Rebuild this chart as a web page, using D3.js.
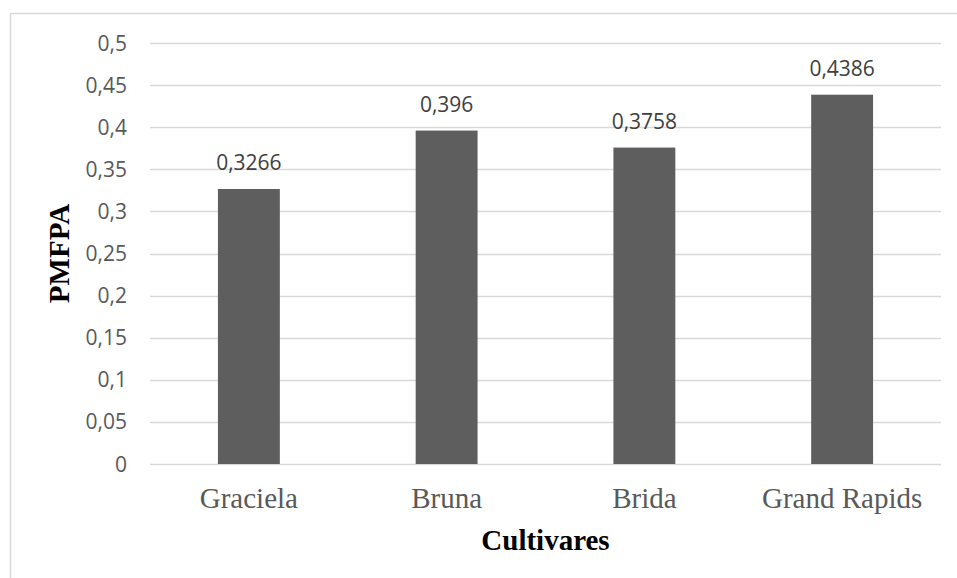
<!DOCTYPE html>
<html>
<head>
<meta charset="utf-8">
<script src="https://cdn.jsdelivr.net/npm/d3@7"></script>
<style>
  html, body { margin: 0; padding: 0; background: #fff; }
  svg { display: block; }
</style>
</head>
<body>
<script>
const categories = ["Graciela", "Bruna", "Brida", "Grand Rapids"];
const values = [0.3266, 0.396, 0.3758, 0.4386];
const valueLabels = ["0,3266", "0,396", "0,3758", "0,4386"];
const yTicks = [0, 0.05, 0.1, 0.15, 0.2, 0.25, 0.3, 0.35, 0.4, 0.45, 0.5];
const yTickLabels = ["0", "0,05", "0,1", "0,15", "0,2", "0,25", "0,3", "0,35", "0,4", "0,45", "0,5"];
const xTitle = "Cultivares";
const yTitle = "PMFPA";

(function () {
const W = 957, H = 578;
const svg = d3.select("body").append("svg").attr("width", W).attr("height", H);

// chart border
svg.append("rect").attr("x", 10.5).attr("y", 13.5).attr("width", 960).attr("height", 600)
  .attr("fill", "#fff").attr("stroke", "#d9d9d9").attr("stroke-width", 1.5);

const pLeft = 150, pRight = 941, pTop = 43, pBottom = 464;
const x = d3.scaleBand().domain(categories).range([pLeft, pRight]).paddingInner(0.687).paddingOuter(0.3435);
const y = d3.scaleLinear().domain([0, 0.5]).range([pBottom, pTop]);

// gridlines
svg.append("g").selectAll("line").data(yTicks).join("line")
  .attr("x1", pLeft).attr("x2", pRight)
  .attr("y1", d => Math.round(y(d)) + 0.5).attr("y2", d => Math.round(y(d)) + 0.5)
  .attr("stroke", "#d9d9d9").attr("stroke-width", 1.3);

// y tick labels
svg.append("g").selectAll("text").data(yTicks).join("text")
  .attr("x", pLeft - 23).attr("y", d => y(d) + 7.5)
  .attr("text-anchor", "end")
  .attr("font-family", "'Open Sans', sans-serif").attr("font-size", 21)
  .attr("fill", "#595959")
  .text((d, i) => yTickLabels[i]);

// bars
svg.append("g").selectAll("rect").data(values).join("rect")
  .attr("x", (d, i) => x(categories[i]))
  .attr("width", x.bandwidth())
  .attr("y", d => y(d))
  .attr("height", d => y(0) - y(d))
  .attr("fill", "#5e5e5e");

// data labels
svg.append("g").selectAll("text").data(values).join("text")
  .attr("x", (d, i) => x(categories[i]) + x.bandwidth() / 2)
  .attr("y", d => y(d) - 19)
  .attr("text-anchor", "middle")
  .attr("font-family", "'Open Sans', sans-serif").attr("font-size", 21)
  .attr("fill", "#404040")
  .text((d, i) => valueLabels[i]);

// category labels
svg.append("g").selectAll("text").data(categories).join("text")
  .attr("x", d => x(d) + x.bandwidth() / 2)
  .attr("y", 508)
  .attr("text-anchor", "middle")
  .attr("font-family", "'Liberation Serif', 'Times New Roman', serif").attr("font-size", 29)
  .attr("fill", "#595959")
  .text(d => d);

// x title
svg.append("text")
  .attr("x", (pLeft + pRight) / 2).attr("y", 550)
  .attr("text-anchor", "middle")
  .attr("font-family", "'Liberation Serif', 'Times New Roman', serif").attr("font-size", 29)
  .attr("font-weight", "bold").attr("fill", "#000")
  .text(xTitle);

// y title
svg.append("text")
  .attr("transform", `translate(69,${(pTop + pBottom) / 2}) rotate(-90)`)
  .attr("text-anchor", "middle")
  .attr("font-family", "'Liberation Serif', 'Times New Roman', serif").attr("font-size", 29)
  .attr("font-weight", "bold").attr("fill", "#000")
  .text(yTitle);
})();
</script>
</body>
</html>
